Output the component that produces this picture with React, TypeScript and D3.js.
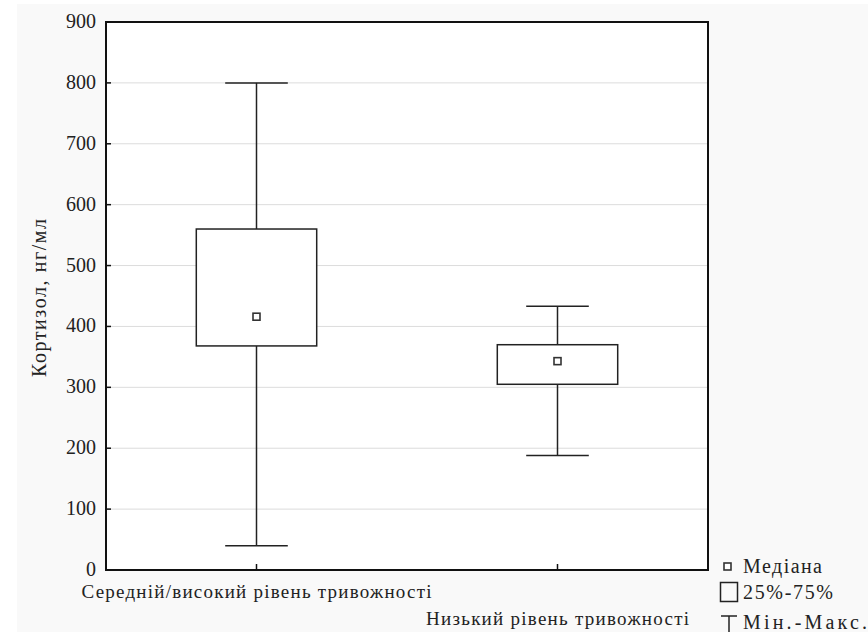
import React from "react";
import * as d3 from "d3";

const width = 868;
const height = 632;

// data
const categories = ["Середній/високий рівень тривожності", "Низький рівень тривожності"];
const minValues = [40, 188];
const q1Values = [368, 305];
const medianValues = [416, 343];
const q3Values = [560, 370];
const maxValues = [800, 433];
const yTicks = [0, 100, 200, 300, 400, 500, 600, 700, 800, 900];
const legendLabels = ["Медіана", "25%-75%", "Мін.-Макс."];
const yTitle = "Кортизол, нг/мл";

const txt = { fontFamily: '"Liberation Serif", "Times New Roman", Times, serif' };
const ink = "#222";

export default function App() {
  const plot = { left: 106, right: 708, top: 22, bottom: 570 };

  const x = d3.scalePoint<string>().domain(categories).range([plot.left, plot.right]).padding(0.5);
  const y = d3.scaleLinear().domain([0, 900]).range([plot.bottom, plot.top]);

  const boxW = x.step() * 0.4;
  const capW = boxW * 0.52;

  // labels are staggered like the original
  const labelY = [598, 625];
  const labelLen = [350, 263];
  const legendY = [573, 599, 629];
  const legendLen = [79, 90, 124];

  return (
    <svg width={width} height={height} style={{ position: "absolute", left: 0, top: 0, display: "block" }}>
      <rect x={0} y={0} width={width} height={height} fill="#fff" />
      <rect x={17} y={4} width={width - 17} height={height - 4} fill="#f9f9f9" />
      <rect
        x={plot.left}
        y={plot.top}
        width={plot.right - plot.left}
        height={plot.bottom - plot.top}
        fill="#fff"
      />

      {/* grid */}
      {yTicks.map((t) => (
        <line
          key={"g" + t}
          x1={plot.left}
          x2={plot.right}
          y1={y(t)}
          y2={y(t)}
          stroke="#dcdcdc"
          strokeWidth={1}
        />
      ))}

      {/* boxes */}
      {categories.map((c, i) => {
        const cx = x(c) as number;
        return (
          <g key={c} stroke={ink} strokeWidth={1.5} fill="none">
            <line x1={cx} x2={cx} y1={y(maxValues[i])} y2={y(q3Values[i])} />
            <line x1={cx} x2={cx} y1={y(q1Values[i])} y2={y(minValues[i])} />
            <line x1={cx - capW / 2} x2={cx + capW / 2} y1={y(maxValues[i])} y2={y(maxValues[i])} />
            <line x1={cx - capW / 2} x2={cx + capW / 2} y1={y(minValues[i])} y2={y(minValues[i])} />
            <rect
              x={cx - boxW / 2}
              y={y(q3Values[i])}
              width={boxW}
              height={y(q1Values[i]) - y(q3Values[i])}
              fill="#fff"
            />
            <rect
              x={cx - 3.5}
              y={y(medianValues[i]) - 3.5}
              width={7}
              height={7}
              fill="#fff"
              stroke="#333"
              strokeWidth={1.6}
            />
          </g>
        );
      })}

      {/* frame */}
      <rect
        x={plot.left}
        y={plot.top}
        width={plot.right - plot.left}
        height={plot.bottom - plot.top}
        fill="none"
        stroke="#111"
        strokeWidth={2}
      />

      {/* y axis ticks and labels */}
      {yTicks.map((t) => (
        <g key={"t" + t}>
          <line x1={plot.left} x2={plot.left + 5} y1={y(t)} y2={y(t)} stroke="#111" strokeWidth={1.5} />
          <text x={96} y={y(t)} dy="0.3em" textAnchor="end" fontSize={20} fill={ink} style={txt}>
            {t}
          </text>
        </g>
      ))}

      {/* x axis ticks and labels */}
      {categories.map((c, i) => {
        const cx = x(c) as number;
        return (
          <g key={"x" + c}>
            <line x1={cx} x2={cx} y1={plot.bottom} y2={plot.bottom - 6} stroke="#111" strokeWidth={1.5} />
            <text
              x={cx}
              y={labelY[i]}
              textAnchor="middle"
              fontSize={19}
              fill={ink}
              style={txt}
              textLength={labelLen[i]}
              lengthAdjust="spacing"
            >
              {c}
            </text>
          </g>
        );
      })}

      <text
        transform={`translate(46,${(plot.top + plot.bottom) / 2 + 2}) rotate(-90)`}
        textAnchor="middle"
        fontSize={20}
        fill={ink}
        style={txt}
        textLength={158}
        lengthAdjust="spacing"
      >
        {yTitle}
      </text>

      {/* legend */}
      <g fill={ink}>
        <rect x={724} y={563} width={7} height={7} fill="#fff" stroke="#333" strokeWidth={1.6} />
        <rect x={720.5} y={582.5} width={17} height={19} fill="none" stroke="#222" strokeWidth={1.5} />
        <line x1={721} x2={737} y1={616} y2={616} stroke="#222" strokeWidth={1.5} />
        <line x1={729} x2={729} y1={616} y2={632} stroke="#222" strokeWidth={1.5} />
        {legendLabels.map((l, i) => (
          <text
            key={l}
            x={743}
            y={legendY[i]}
            fontSize={20}
            style={txt}
            textLength={legendLen[i]}
            lengthAdjust="spacing"
          >
            {l}
          </text>
        ))}
      </g>
    </svg>
  );
}
